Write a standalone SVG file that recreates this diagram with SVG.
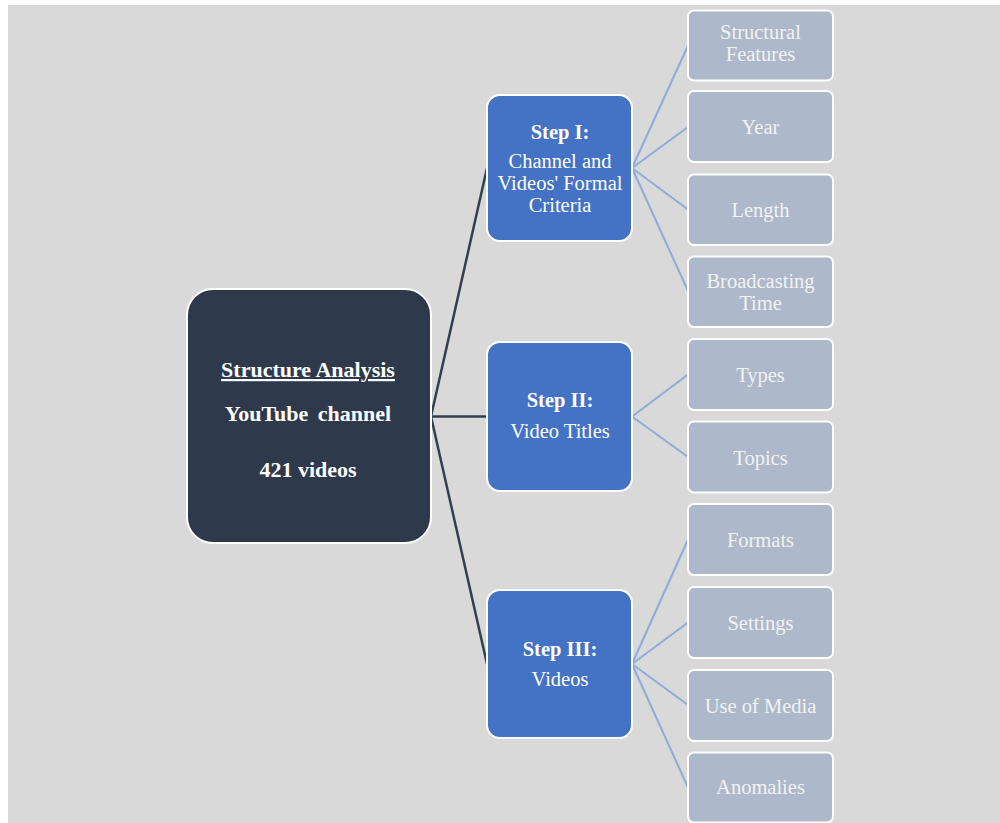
<svg xmlns="http://www.w3.org/2000/svg" width="1000" height="823" viewBox="0 0 1000 823">
<style>
.root{fill:#2e3a4b;stroke:#ffffff;stroke-width:2}
.step{fill:#4472c4;stroke:#ffffff;stroke-width:2}
.leaf{fill:#adb9ca;stroke:#ffffff;stroke-width:2}
.t{font-family:"Liberation Serif","Times New Roman",serif;fill:#ffffff;text-anchor:middle}
.rt{font-size:22px;font-weight:bold}
.st{font-size:20.5px}
.sb{font-weight:bold}
.lt{font-size:20.5px;fill:#f2f2f2}
.dk{stroke:#333f50;stroke-width:2.5;fill:none}
.bl{stroke:#8faadc;stroke-width:2;fill:none}
</style>
<rect x="0" y="0" width="1000" height="823" fill="#ffffff"/>
<rect x="8" y="5" width="992" height="818" fill="#d9d9d9"/>
<g id="connectors">
<line class="dk" x1="431" y1="416.5" x2="487" y2="168"/>
<line class="dk" x1="431" y1="416.5" x2="487" y2="416.5"/>
<line class="dk" x1="431" y1="416.5" x2="487" y2="664"/>
<line class="bl" x1="632" y1="168" x2="688" y2="45.5"/>
<line class="bl" x1="632" y1="168" x2="688" y2="127"/>
<line class="bl" x1="632" y1="168" x2="688" y2="209.5"/>
<line class="bl" x1="632" y1="168" x2="688" y2="291"/>
<line class="bl" x1="632" y1="416.5" x2="688" y2="374.5"/>
<line class="bl" x1="632" y1="416.5" x2="688" y2="457"/>
<line class="bl" x1="632" y1="664" x2="688" y2="539.5"/>
<line class="bl" x1="632" y1="664" x2="688" y2="622.5"/>
<line class="bl" x1="632" y1="664" x2="688" y2="705"/>
<line class="bl" x1="632" y1="664" x2="688" y2="787.5"/>
</g>
<g id="root">
<rect class="root" x="187" y="289" width="244" height="254" rx="26"/>
<text class="t rt" x="308" y="377" text-decoration="underline">Structure Analysis</text>
<text class="t rt" x="308" y="421" word-spacing="4">YouTube channel</text>
<text class="t rt" x="308" y="477">421 videos</text>
</g>
<g id="step1">
<rect class="step" x="487" y="95" width="145" height="146" rx="13"/>
<text class="t st sb" x="560" y="139">Step I:</text>
<text class="t st" x="560" y="168">Channel and</text>
<text class="t st" x="560" y="190">Videos' Formal</text>
<text class="t st" x="560" y="212">Criteria</text>
</g>
<g id="step2">
<rect class="step" x="487" y="342" width="145" height="149" rx="13"/>
<text class="t st sb" x="560" y="407">Step II:</text>
<text class="t st" x="560" y="438">Video Titles</text>
</g>
<g id="step3">
<rect class="step" x="487" y="590" width="145" height="148" rx="13"/>
<text class="t st sb" x="560" y="656">Step III:</text>
<text class="t st" x="560" y="686">Videos</text>
</g>
<g id="leaf-structural">
<rect class="leaf" x="688" y="10.5" width="145" height="70" rx="6"/>
<text class="t lt" x="760.5" y="39">Structural</text>
<text class="t lt" x="760.5" y="61">Features</text>
</g>
<g id="leaf-year">
<rect class="leaf" x="688" y="91" width="145" height="71" rx="6"/>
<text class="t lt" x="760.5" y="134">Year</text>
</g>
<g id="leaf-length">
<rect class="leaf" x="688" y="174.5" width="145" height="70.5" rx="6"/>
<text class="t lt" x="760.5" y="216.5">Length</text>
</g>
<g id="leaf-broadcasting">
<rect class="leaf" x="688" y="256.5" width="145" height="70.5" rx="6"/>
<text class="t lt" x="760.5" y="288">Broadcasting</text>
<text class="t lt" x="760.5" y="309.5">Time</text>
</g>
<g id="leaf-types">
<rect class="leaf" x="688" y="339" width="145" height="71" rx="6"/>
<text class="t lt" x="760.5" y="382">Types</text>
</g>
<g id="leaf-topics">
<rect class="leaf" x="688" y="421.5" width="145" height="71" rx="6"/>
<text class="t lt" x="760.5" y="465">Topics</text>
</g>
<g id="leaf-formats">
<rect class="leaf" x="688" y="504" width="145" height="71" rx="6"/>
<text class="t lt" x="760.5" y="547">Formats</text>
</g>
<g id="leaf-settings">
<rect class="leaf" x="688" y="587" width="145" height="71" rx="6"/>
<text class="t lt" x="760.5" y="629.5">Settings</text>
</g>
<g id="leaf-media">
<rect class="leaf" x="688" y="670" width="145" height="71" rx="6"/>
<text class="t lt" x="760.5" y="712.5">Use of Media</text>
</g>
<g id="leaf-anomalies">
<rect class="leaf" x="688" y="752.5" width="145" height="70" rx="6"/>
<text class="t lt" x="760.5" y="793.5">Anomalies</text>
</g>
</svg>
